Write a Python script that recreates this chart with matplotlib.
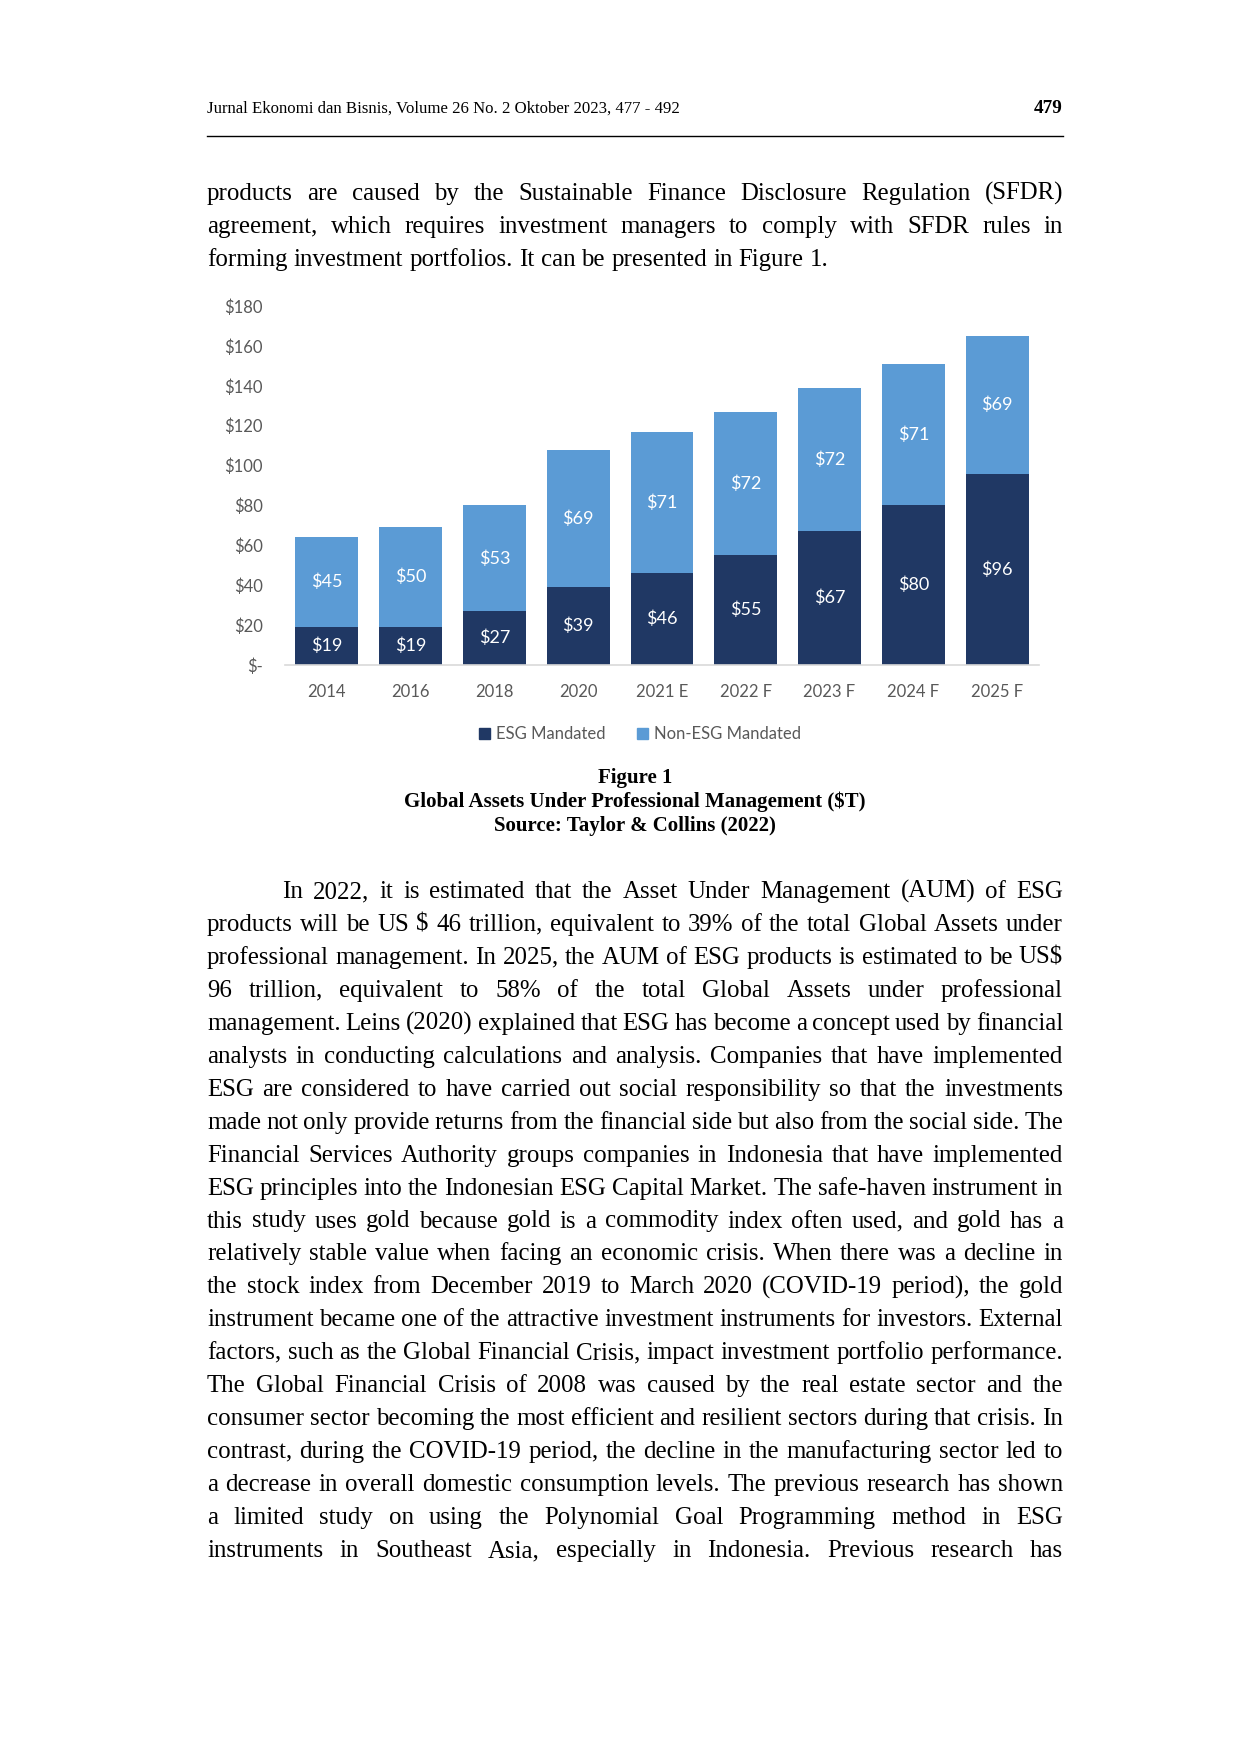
import matplotlib
matplotlib.use('Agg')
import matplotlib.pyplot as plt
from matplotlib.transforms import IdentityTransform
from matplotlib.patches import Patch
import numpy as np

# chart data (Global Assets Under Professional Management, $T)
years = ['2014', '2016', '2018', '2020', '2021 E', '2022 F', '2023 F', '2024 F', '2025 F']
esg = [19, 19, 27, 39, 46, 55, 67, 80, 96]
non_esg = [45, 50, 53, 69, 71, 72, 72, 71, 69]
y_ticks = [0, 20, 40, 60, 80, 100, 120, 140, 160, 180]
y_labels = ['$-', '$20', '$40', '$60', '$80', '$100', '$120', '$140', '$160', '$180']

header = 'Jurnal Ekonomi dan Bisnis, Volume 26 No. 2 Oktober 2023, 477 - 492'
page_no = '479'

para1 = [
    'products are caused by the Sustainable Finance Disclosure Regulation (SFDR)',
    'agreement, which requires investment managers to comply with SFDR rules in',
    'forming investment portfolios. It can be presented in Figure 1.',
]
caption = [
    'Figure 1',
    'Global Assets Under Professional Management ($T)',
    'Source: Taylor & Collins (2022)',
]
para2 = [
    'In 2022, it is estimated that the Asset Under Management (AUM) of ESG',
    'products will be US $ 46 trillion, equivalent to 39% of the total Global Assets under',
    'professional management. In 2025, the AUM of ESG products is estimated to be US$',
    '96 trillion, equivalent to 58% of the total Global Assets under professional',
    'management. Leins (2020) explained that ESG has become a concept used by financial',
    'analysts in conducting calculations and analysis. Companies that have implemented',
    'ESG are considered to have carried out social responsibility so that the investments',
    'made not only provide returns from the financial side but also from the social side. The',
    'Financial Services Authority groups companies in Indonesia that have implemented',
    'ESG principles into the Indonesian ESG Capital Market. The safe-haven instrument in',
    'this study uses gold because gold is a commodity index often used, and gold has a',
    'relatively stable value when facing an economic crisis. When there was a decline in',
    'the stock index from December 2019 to March 2020 (COVID-19 period), the gold',
    'instrument became one of the attractive investment instruments for investors. External',
    'factors, such as the Global Financial Crisis, impact investment portfolio performance.',
    'The Global Financial Crisis of 2008 was caused by the real estate sector and the',
    'consumer sector becoming the most efficient and resilient sectors during that crisis. In',
    'contrast, during the COVID-19 period, the decline in the manufacturing sector led to',
    'a decrease in overall domestic consumption levels. The previous research has shown',
    'a limited study on using the Polynomial Goal Programming method in ESG',
    'instruments in Southeast Asia, especially in Indonesia. Previous research has',
]

ESG_C = '#203864'
NON_C = '#5B9BD5'
GREY = '#595959'
SERIF = 'Liberation Serif'
SANS = 'Lato'

W, H = 1240, 1754
fig = plt.figure(figsize=(W / 100, H / 100), dpi=100)
fig.patch.set_facecolor('white')
renderer = fig.canvas.get_renderer()


def put(x, y, s, **kw):
    # x, y in output pixels, y measured from the top of the page
    return fig.text(x, H - y, s, transform=IdentityTransform(), parse_math=False, **kw)


def width_of(s, **kw):
    t = put(0, 0, s, **kw)
    w = t.get_window_extent(renderer).width
    t.remove()
    return w


def fit_size(s, target, **kw):
    return 20 * target / width_of(s, fontsize=20, **kw)


L, R = 207, 1063

# header
hs = fit_size(header, 472, family=SERIF)
put(L, 113, header, fontsize=hs, family=SERIF, va='baseline')
put(R, 113, page_no, fontsize=hs * 1.15, family=SERIF, weight='bold', va='baseline', ha='right')
fig.add_artist(plt.Line2D([L / W, R / W], [1 - 136 / H, 1 - 136 / H], color='black', lw=1.0))

# body text, justified word by word
body = fit_size(para1[2], 621, family=SERIF)


def justify(line, y, x0, x1, stretch=True):
    words = line.split(' ')
    widths = [width_of(w, fontsize=body, family=SERIF) for w in words]
    if stretch and len(words) > 1:
        gap = (x1 - x0 - sum(widths)) / (len(words) - 1)
    else:
        gap = width_of('a a', fontsize=body, family=SERIF) - 2 * width_of('a', fontsize=body, family=SERIF)
    x = x0
    for w, wd in zip(words, widths):
        put(x, y, w, fontsize=body, family=SERIF, va='baseline')
        x += wd + gap


for i, line in enumerate(para1):
    justify(line, 200 + 33 * i, L, R, stretch=(i < len(para1) - 1))

for i, line in enumerate(para2):
    justify(line, 898 + 32.95 * i, 282 if i == 0 else L, R)

# caption
cs = fit_size(caption[1], 460, family=SERIF, weight='bold')
for i, line in enumerate(caption):
    put(635, 783 + 24 * i, line, fontsize=cs, family=SERIF, weight='bold', ha='center', va='baseline')

# chart
ax = fig.add_axes([285 / W, 1 - 665 / H, (1039 - 285) / W, (665 - 306) / H])
x = np.arange(len(years))
b1 = ax.bar(x, esg, 0.75, color=ESG_C)
b2 = ax.bar(x, non_esg, 0.75, bottom=esg, color=NON_C)
ax.bar_label(b1, labels=['$' + str(v) for v in esg], label_type='center',
             color='white', fontsize=13, family=SANS)
ax.bar_label(b2, labels=['$' + str(v) for v in non_esg], label_type='center',
             color='white', fontsize=13, family=SANS)
ax.set_xlim(-0.5, len(years) - 0.5)
ax.set_ylim(0, 180)
ax.set_xticks(x)
ax.set_xticklabels(years)
ax.set_yticks(y_ticks)
ax.set_yticklabels(y_labels)
for lab in ax.get_xticklabels() + ax.get_yticklabels():
    lab.set_family(SANS)
ax.tick_params(axis='both', length=0, colors=GREY, labelsize=12)
ax.tick_params(axis='y', pad=16)
ax.tick_params(axis='x', pad=14)
for s in ['top', 'right', 'left']:
    ax.spines[s].set_visible(False)
ax.spines['bottom'].set_color('#D9D9D9')
ax.spines['bottom'].set_linewidth(1.2)

handles = [Patch(color=ESG_C, label='ESG Mandated'), Patch(color=NON_C, label='Non-ESG Mandated')]
fig.legend(handles=handles, loc='center', bbox_to_anchor=(640 / W, 1 - 734 / H), ncol=2,
           frameon=False, handlelength=0.65, handleheight=0.65, handletextpad=0.35,
           columnspacing=1.9, prop={'family': SANS, 'size': 12}, labelcolor=GREY)

fig.savefig('out.png', dpi=100)
